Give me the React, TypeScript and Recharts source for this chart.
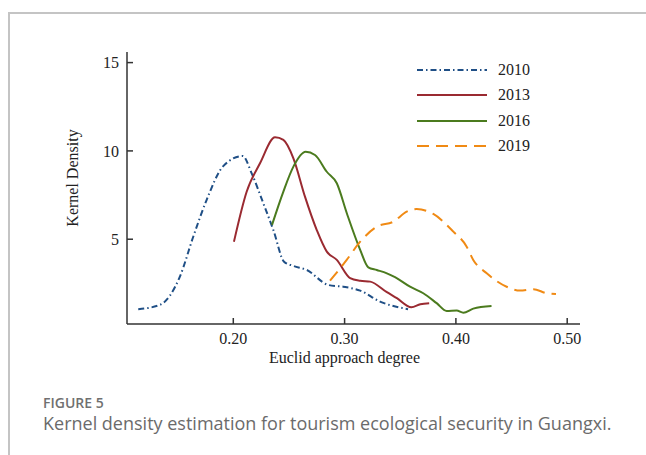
import React from 'react';
import { LineChart, Line, XAxis, YAxis, Legend } from 'recharts';

const xTicks = [0.2, 0.3, 0.4, 0.5];
const yTicks = [5, 10, 15];

const x2010 = [0.1146, 0.134, 0.152, 0.164, 0.176, 0.191, 0.2085, 0.2165, 0.227, 0.236, 0.2456, 0.254, 0.266, 0.2854, 0.2988, 0.314, 0.3318, 0.357];
const y2010 = [1.04, 1.28, 2.88, 5.14, 7.22, 9.14, 9.71, 8.73, 7.03, 5.52, 3.73, 3.49, 3.26, 2.41, 2.31, 2.09, 1.47, 1.04];

const x2013 = [0.2006, 0.212, 0.224, 0.2375, 0.245, 0.254, 0.2644, 0.275, 0.284, 0.293, 0.305, 0.314, 0.323, 0.338, 0.347, 0.36, 0.368, 0.376];
const y2013 = [4.86, 7.69, 9.3, 10.77, 10.62, 9.58, 7.41, 5.52, 4.3, 3.83, 2.8, 2.65, 2.6, 2.0, 1.66, 1.15, 1.32, 1.38];

const x2016 = [0.2348, 0.245, 0.254, 0.265, 0.2734, 0.284, 0.293, 0.302, 0.314, 0.3213, 0.3289, 0.338, 0.3453, 0.3588, 0.3707, 0.3827, 0.3917, 0.4007, 0.4067, 0.4156, 0.432];
const y2016 = [5.81, 7.7, 9.11, 9.95, 9.77, 8.82, 8.17, 6.47, 4.4, 3.41, 3.26, 3.07, 2.85, 2.31, 1.94, 1.38, 0.94, 0.96, 0.84, 1.07, 1.22];

const x2019 = [0.2869, 0.3019, 0.314, 0.3289, 0.3438, 0.3558, 0.3648, 0.3797, 0.3977, 0.4097, 0.4156, 0.4277, 0.4456, 0.4576, 0.4696, 0.4816, 0.4899];
const y2019 = [2.65, 3.83, 4.86, 5.71, 5.99, 6.56, 6.71, 6.43, 5.43, 4.58, 3.83, 3.07, 2.31, 2.09, 2.17, 1.94, 1.9];

const zip = (xs: number[], ys: number[]) => xs.map((x, i) => ({ x, y: ys[i] }));

const series = [
  { name: '2010', data: zip(x2010, y2010), color: '#1f4f86', dash: '6 3 1.5 3' },
  { name: '2013', data: zip(x2013, y2013), color: '#9a2a31', dash: undefined },
  { name: '2016', data: zip(x2016, y2016), color: '#4b7b1e', dash: undefined },
  { name: '2019', data: zip(x2019, y2019), color: '#f08a14', dash: '12 7' },
];

const serif = '"Liberation Serif", "Times New Roman", serif';

const LegendBox = () => (
  <div style={{ fontFamily: serif, fontSize: 16, color: '#222' }}>
    {series.map((s) => (
      <div key={s.name} style={{ display: 'flex', alignItems: 'center', height: 25.5 }}>
        <svg width={71} height={6} style={{ display: 'block' }}>
          <line x1={0} y1={3} x2={70} y2={3} stroke={s.color} strokeWidth={2} strokeDasharray={s.dash} />
        </svg>
        <span style={{ marginLeft: 10 }}>{s.name}</span>
      </div>
    ))}
  </div>
);

export default function App() {
  return (
    <div style={{ position: 'absolute', left: 0, top: 0, width: 646, height: 455, background: '#fff', overflow: 'hidden' }}>
      <div style={{ position: 'absolute', left: 8, top: 12, width: 700, height: 460, borderTop: '2px solid #c4c4c4', borderLeft: '2px solid #c4c4c4' }} />
      <div style={{ position: 'absolute', left: 0, top: 0 }}>
        <LineChart width={646} height={455} margin={{ top: 52, right: 66, bottom: 101, left: 67 }}>
          <XAxis
            type="number"
            dataKey="x"
            domain={[0.1045, 0.5115]}
            ticks={xTicks}
            tickFormatter={(v: number) => v.toFixed(2)}
            allowDataOverflow
            height={30}
            stroke="#333"
            strokeWidth={1.5}
            tickSize={-6}
            tickMargin={15}
            tick={{ fill: '#222', fontFamily: serif, fontSize: 16 }}
            label={{ value: 'Euclid approach degree', position: 'insideBottom', offset: -9, dx: -9, fill: '#222', fontFamily: serif, fontSize: 16 }}
          />
          <YAxis
            type="number"
            dataKey="y"
            domain={[0.2, 15.6]}
            ticks={yTicks}
            allowDataOverflow
            width={60}
            stroke="#333"
            strokeWidth={1.5}
            tickSize={-6}
            tickMargin={14}
            tick={{ fill: '#222', fontFamily: serif, fontSize: 16 }}
            label={{ value: 'Kernel Density', angle: -90, position: 'insideLeft', offset: 0, dx: 5, dy: -10, fill: '#222', fontFamily: serif, fontSize: 16, style: { textAnchor: 'middle' } }}
          />
          <Legend
            verticalAlign="middle"
            align="center"
            layout="horizontal"
            content={() => <LegendBox />}
            wrapperStyle={{ position: 'absolute', left: 417, top: 57, width: 140 }}
          />
          {series.map((s) => (
            <Line
              key={s.name}
              data={s.data}
              dataKey="y"
              name={s.name}
              type="monotone"
              stroke={s.color}
              strokeWidth={2}
              strokeDasharray={s.dash}
              dot={false}
              activeDot={false}
              isAnimationActive={false}
            />
          ))}
        </LineChart>
      </div>
      <div style={{ position: 'absolute', left: 43, top: 393, fontFamily: '"Open Sans", sans-serif', fontSize: 14, fontWeight: 600, color: '#707070' }}>FIGURE 5</div>
      <div style={{ position: 'absolute', left: 43, top: 411, fontFamily: '"Open Sans", sans-serif', fontSize: 18, color: '#6b6b6b', whiteSpace: 'nowrap' }}>Kernel density estimation for tourism ecological security in Guangxi.</div>
    </div>
  );
}
